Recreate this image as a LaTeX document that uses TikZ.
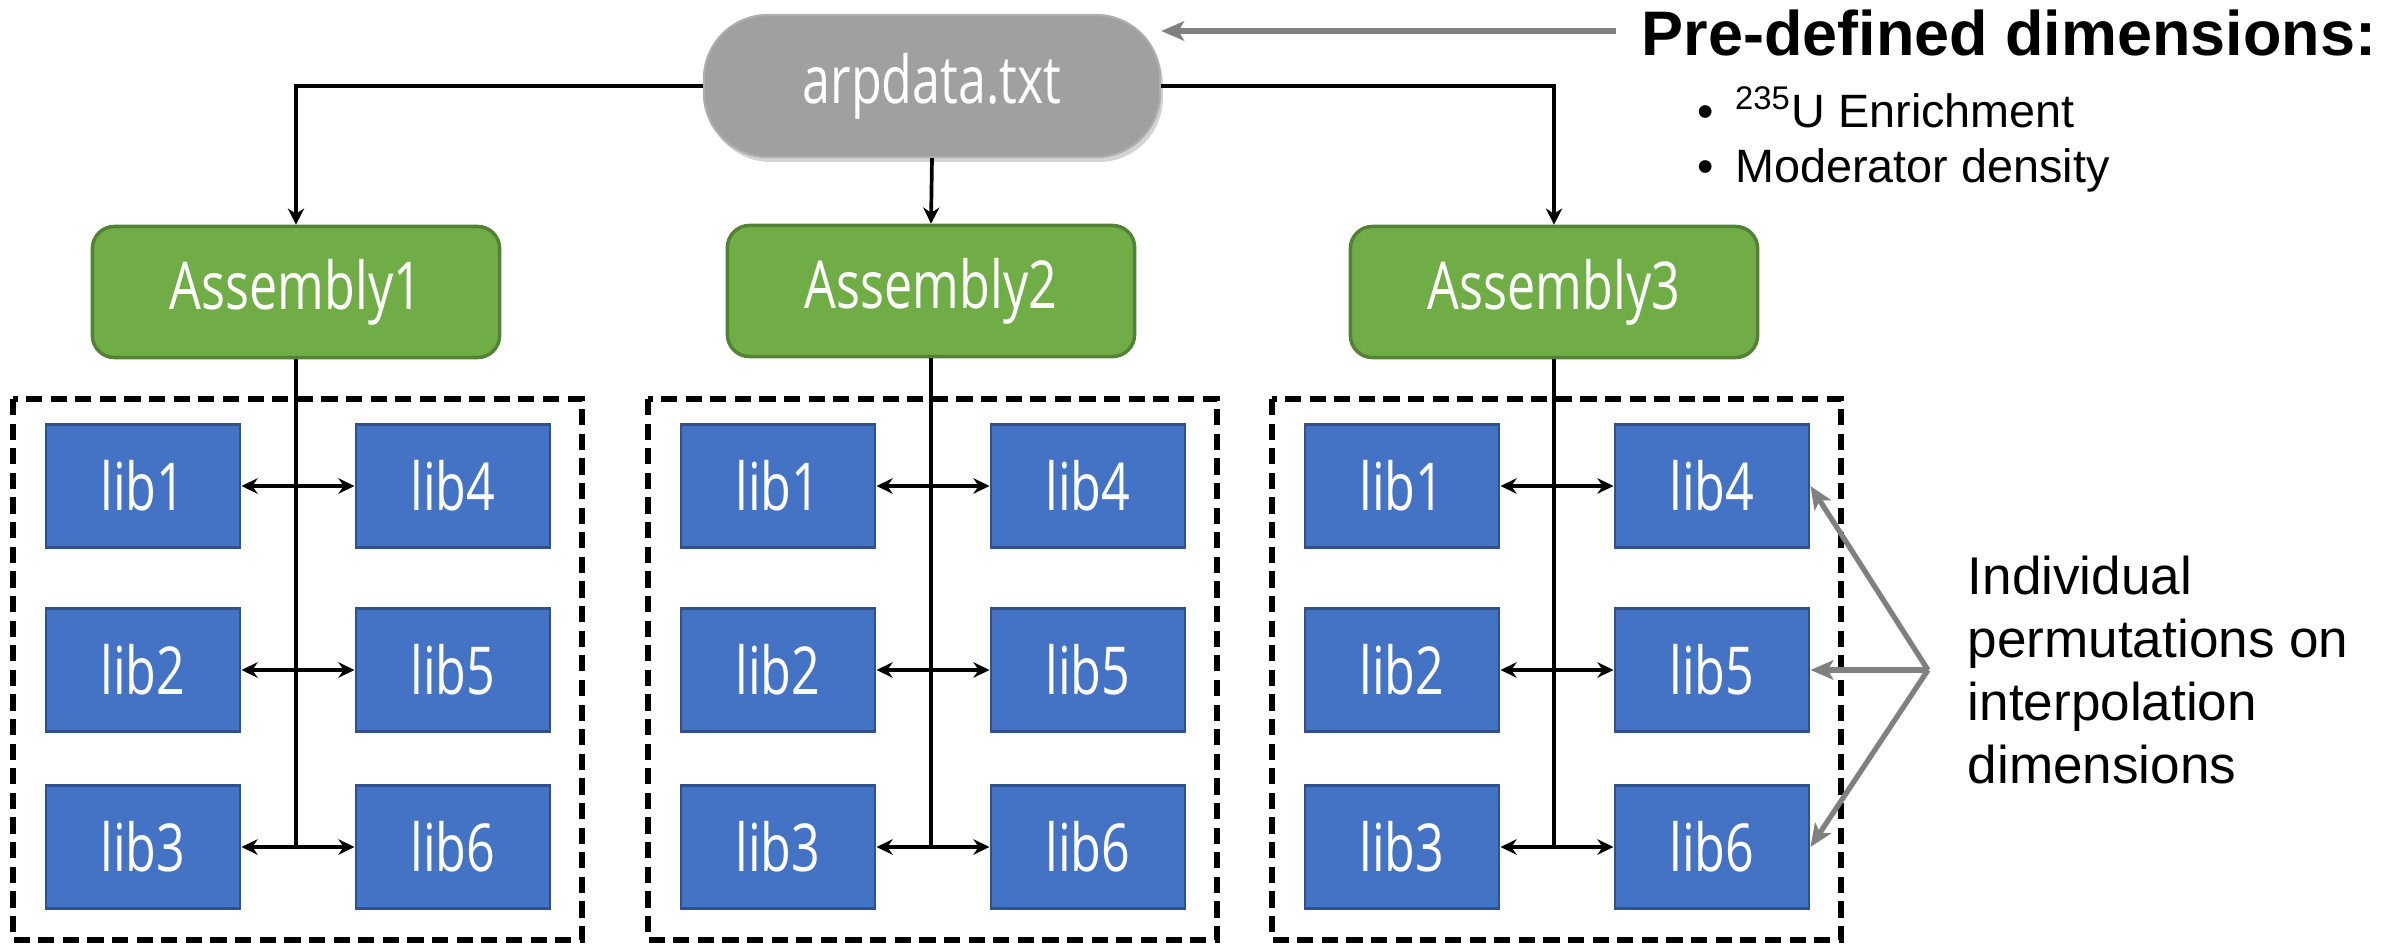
\documentclass[tikz,border=0pt]{standalone}
\usepackage{fontspec}
\setmainfont{Liberation Sans}
\newfontfamily\boxfont[FakeStretch=0.76]{Open Sans}
\usetikzlibrary{arrows.meta,shadows}
\definecolor{grn}{HTML}{70AD47}
\definecolor{grnb}{HTML}{538135}
\definecolor{blu}{HTML}{4472C4}
\definecolor{blub}{HTML}{2F528F}
\definecolor{pillc}{HTML}{A0A0A0}
\definecolor{arrg}{HTML}{808080}
\begin{document}
\begin{tikzpicture}[x=0.01cm,y=-0.01cm,
  boxtxt/.style={font=\boxfont\fontsize{18.8}{22}\selectfont, text=white},
  pill/.style={boxtxt, fill=pillc, draw=pillc!85!white, line width=0.6pt,
    rounded corners=0.64cm, minimum width=4.56cm, minimum height=1.42cm,
    drop shadow={shadow xshift=0.8pt, shadow yshift=-1.4pt, opacity=0.35}},
  asm/.style={boxtxt, fill=grn, draw=grnb, line width=1pt, rounded corners=0.22cm,
    minimum width=4.07cm, minimum height=1.31cm},
  lib/.style={boxtxt, fill=blu, draw=blub, line width=0.8pt,
    minimum width=1.94cm, minimum height=1.23cm},
  grp/.style={draw=black, line width=1.45pt, dash pattern=on 4.6pt off 2.4pt},
  conn/.style={draw=black, line width=1.05pt},
  tip/.style={-{Stealth[length=4.6pt,width=4.6pt,inset=1.5pt]}},
  bitip/.style={{Stealth[length=4.6pt,width=4.4pt,inset=1.5pt]}-{Stealth[length=4.6pt,width=4.4pt,inset=1.5pt]}},
  garrow/.style={draw=arrg, line width=1.5pt, -{Stealth[length=6.5pt,width=5.5pt,inset=1.6pt]}},
]
\useasboundingbox (0,0) rectangle (2402,945);

% top node and assemblies
\node[pill] (arp) at (932,86) {arpdata.txt};
\node[asm] (a1) at (296,292) {Assembly1};
\node[asm] (a2) at (931,291) {Assembly2};
\node[asm] (a3) at (1554,292) {Assembly3};

\draw[conn,tip] (arp.west) -| (a1.north);
\draw[conn,tip] (arp.south) -- (a2.north);
\draw[conn,tip] (arp.east) -| (a3.north);

% library groups
\foreach \g/\cx in {1/296,2/931,3/1555}{
  \draw[grp] ({\cx-283},399) rectangle ({\cx+286},940);
  \node[lib] (g\g-1) at ({\cx-153},486) {lib1};
  \node[lib] (g\g-2) at ({\cx-153},670) {lib2};
  \node[lib] (g\g-3) at ({\cx-153},847) {lib3};
  \node[lib] (g\g-4) at ({\cx+157},486) {lib4};
  \node[lib] (g\g-5) at ({\cx+157},670) {lib5};
  \node[lib] (g\g-6) at ({\cx+157},847) {lib6};
  \draw[conn] (a\g.south) -- (a\g.south |- g\g-3.east);
  \draw[conn,bitip] (g\g-1.east) -- (g\g-4.west);
  \draw[conn,bitip] (g\g-2.east) -- (g\g-5.west);
  \draw[conn,bitip] (g\g-3.east) -- (g\g-6.west);
}

% pre-defined dimensions
\node[anchor=base west, inner sep=0, font=\bfseries\fontsize{17.9}{21}\selectfont] (ttl) at (1641,55) {Pre-defined dimensions:};
\coordinate (tstart) at (1616,31);
\draw[garrow] (tstart) -- (tstart -| arp.east);
\node[anchor=north west, inner sep=0, align=left, font=\fontsize{13.3}{15.4}\selectfont] (bul) at (1697,86)
  {•\hspace{0.45em}\textsuperscript{235}U Enrichment\\•\hspace{0.45em}Moderator density};

% individual permutations
\node[anchor=north west, inner sep=0, align=left, font=\fontsize{15.1}{17.9}\selectfont] (side) at (1967,555)
  {Individual\\permutations on\\interpolation\\dimensions};
\coordinate (apex) at (1928,670);
\draw[garrow] (apex) -- (g3-4.east);
\draw[garrow] (apex) -- (g3-5.east);
\draw[garrow] (apex) -- (g3-6.east);
\end{tikzpicture}
\end{document}
